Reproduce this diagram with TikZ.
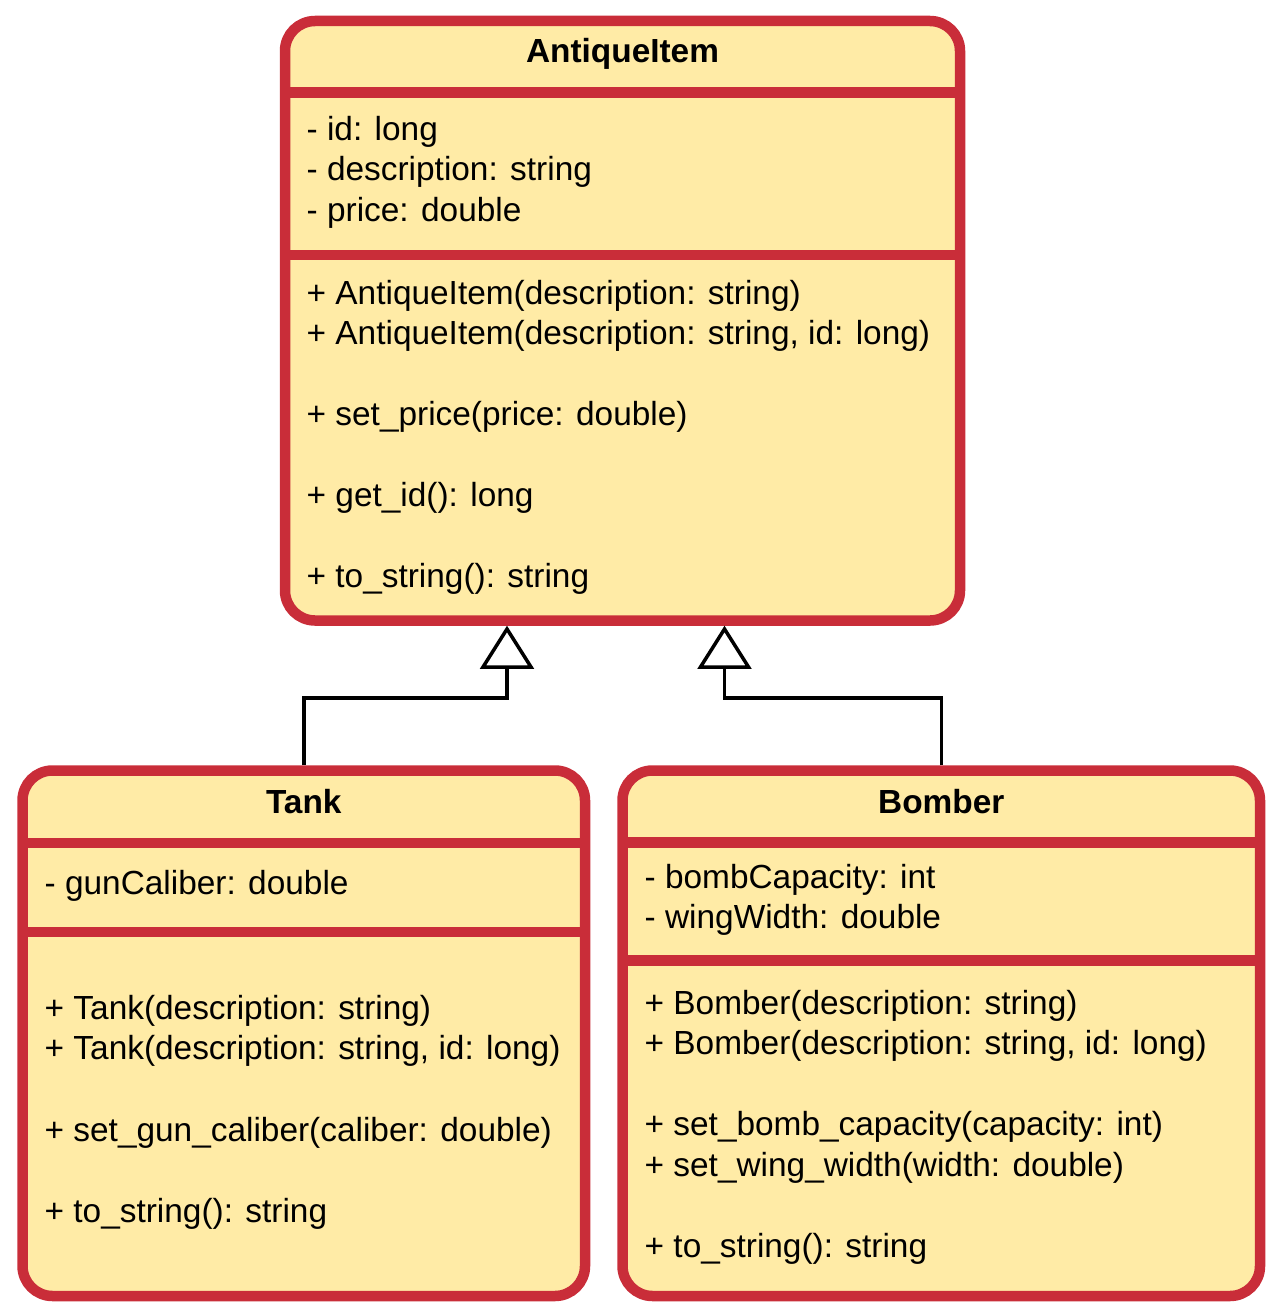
\documentclass[tikz,border=0pt]{standalone}
\usepackage{fontspec}
\setmainfont{Liberation Sans}
\definecolor{umlred}{HTML}{C92D39}
\definecolor{umlfill}{HTML}{FFEBA6}
\begin{document}
\begin{tikzpicture}[x=1pt,y=-1pt,
  classbox/.style={draw=umlred, fill=umlfill, line width=10.5pt, rounded corners=30pt, inner sep=0pt},
  sepline/.style={draw=umlred, line width=10.5pt},
  txt/.style={anchor=base west, inner sep=0pt, font=\fontsize{33.4}{40.8}\selectfont},
  ttl/.style={anchor=base, inner sep=0pt, font=\fontsize{33.4}{40.8}\selectfont\bfseries},
  conn/.style={draw=black, line width=3.5pt},
  inherit/.style={draw=black, line width=3.5pt, fill=white, line join=miter}
]
\useasboundingbox (0,0) rectangle (1277,1311);

% boxes
\node[classbox, minimum width=675pt, minimum height=599.5pt] (antique) at (622.5,320.75) {};
\node[classbox, minimum width=562.5pt, minimum height=525.5pt] (tank) at (303.75,1033.25) {};
\node[classbox, minimum width=637.5pt, minimum height=525.5pt] (bomber) at (941.25,1033.25) {};

% separators
\draw[sepline] (285,92.5) -- (960,92.5);
\draw[sepline] (285,255) -- (960,255);
\draw[sepline] (22.5,843) -- (585,843);
\draw[sepline] (22.5,932) -- (585,932);
\draw[sepline] (622.5,842.5) -- (1260,842.5);
\draw[sepline] (622.5,960.5) -- (1260,960.5);

% AntiqueItem texts
\node[ttl] (aT) at (622.5,63) {AntiqueItem};
\node[txt] (a1) at (306.5,140) {- id: long};
\node[txt] (a2) at (306.5,180.5) {- description: string};
\node[txt] (a3) at (306.5,221) {- price: double};
\node[txt] (m1) at (306.5,304) {+ AntiqueItem(description: string)};
\node[txt] (m2) at (306.5,344.5) {+ AntiqueItem(description: string, id: long)};
\node[txt] (m3) at (306.5,425.5) {+ set\_price(price: double)};
\node[txt] (m4) at (306.5,506.5) {+ get\_id(): long};
\node[txt] (m5) at (306.5,587.5) {+ to\_string(): string};

% Tank texts
\node[ttl] (tT) at (303.75,813) {Tank};
\node[txt] (t1) at (44.5,894) {- gunCaliber: double};
\node[txt] (tm1) at (44.5,1019) {+ Tank(description: string)};
\node[txt] (tm2) at (44.5,1059.7) {+ Tank(description: string, id: long)};
\node[txt] (tm3) at (44.5,1141) {+ set\_gun\_caliber(caliber: double)};
\node[txt] (tm4) at (44.5,1222) {+ to\_string(): string};

% Bomber texts
\node[ttl] (bT) at (941.25,813) {Bomber};
\node[txt] (b1) at (644.5,888) {- bombCapacity: int};
\node[txt] (b2) at (644.5,928.5) {- wingWidth: double};
\node[txt] (bm1) at (644.5,1014) {+ Bomber(description: string)};
\node[txt] (bm2) at (644.5,1054.5) {+ Bomber(description: string, id: long)};
\node[txt] (bm3) at (644.5,1135.5) {+ set\_bomb\_capacity(capacity: int)};
\node[txt] (bm4) at (644.5,1176) {+ set\_wing\_width(width: double)};
\node[txt] (bm5) at (644.5,1257) {+ to\_string(): string};

% inheritance connectors
\coordinate (tipL) at (507,629);
\coordinate (baseL) at (507,667);
\coordinate (bendL) at (507,698);
\coordinate (tipR) at (724.5,629);
\coordinate (baseR) at (724.5,667);
\coordinate (bendR) at (724.5,698);

\draw[conn] (tank.north) |- (bendL) -- (baseL);
\draw[conn] (bomber.north) |- (bendR) -- (baseR);
\draw[inherit] (tipL) -- ([xshift=-24pt]baseL) -- ([xshift=24pt]baseL) -- cycle;
\draw[inherit] (tipR) -- ([xshift=-24pt]baseR) -- ([xshift=24pt]baseR) -- cycle;
\end{tikzpicture}
\end{document}
